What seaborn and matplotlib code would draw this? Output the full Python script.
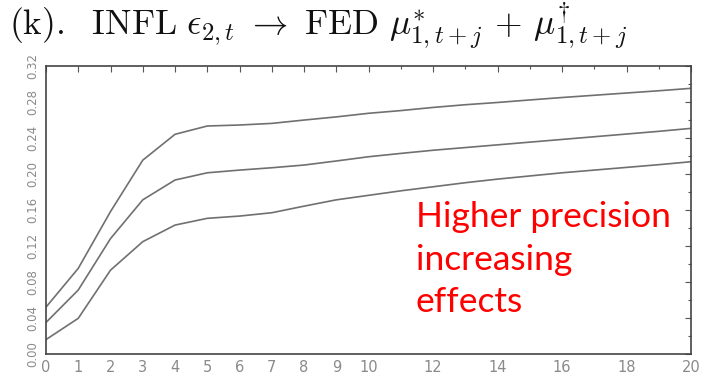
import numpy as np
import pandas as pd
import matplotlib
matplotlib.use("Agg")
import matplotlib.pyplot as plt
import seaborn as sns
from matplotlib.ticker import MultipleLocator, FixedLocator

horizon = list(range(21))
upper = [0.052, 0.095, 0.158, 0.215, 0.2437, 0.2529, 0.254, 0.2558, 0.2595, 0.263, 0.267,
         0.270, 0.2735, 0.2765, 0.279, 0.2818, 0.2845, 0.287, 0.2895, 0.292, 0.2947]
median = [0.035, 0.071, 0.128, 0.171, 0.193, 0.201, 0.204, 0.2066, 0.2096, 0.2141, 0.2188,
          0.2225, 0.226, 0.229, 0.232, 0.235, 0.238, 0.241, 0.244, 0.247, 0.2503]
lower = [0.016, 0.0396, 0.093, 0.1246, 0.143, 0.1505, 0.153, 0.1567, 0.164, 0.171, 0.176,
         0.181, 0.1855, 0.19, 0.194, 0.1975, 0.201, 0.204, 0.207, 0.210, 0.2133]
x_tick_labels = ["0", "1", "2", "3", "4", "5", "6", "7", "8", "9", "10", "12", "14", "16", "18", "20"]
y_tick_labels = ["0.00", "0.04", "0.08", "0.12", "0.16", "0.20", "0.24", "0.28", "0.32"]
title = (r"$\mathrm{(k).\ \ INFL}\ \epsilon_{2,t}\ \rightarrow\ \mathrm{FED}\ "
         r"\mu^{*}_{1,t+j}\,+\,\mu^{\dagger}_{1,t+j}$")
note = "Higher precision\nincreasing\neffects"

df = pd.DataFrame({
    "j": horizon * 3,
    "value": upper + median + lower,
    "band": ["upper"] * 21 + ["median"] * 21 + ["lower"] * 21,
})

sns.set_style("white")
plt.rcParams["mathtext.fontset"] = "cm"

fig = plt.figure(figsize=(7.11, 3.80), dpi=100)
ax = fig.add_axes([0.0647, 0.0684, 0.9073, 0.7592])

sns.lineplot(data=df, x="j", y="value", hue="band", palette=["#707070"] * 3,
             linewidth=1.2, legend=False, ax=ax)

ax.set_xlim(0, 20)
ax.set_ylim(0, 0.32)
ax.set_xlabel("")
ax.set_ylabel("")

xt = [int(v) for v in x_tick_labels]
ax.xaxis.set_major_locator(FixedLocator(xt))
ax.set_xticklabels(x_tick_labels)
ax.xaxis.set_minor_locator(FixedLocator([11, 13, 15, 17, 19]))
yt = [float(v) for v in y_tick_labels]
ax.yaxis.set_major_locator(FixedLocator(yt))
ax.set_yticklabels(y_tick_labels, rotation=90, va="center")
ax.yaxis.set_minor_locator(MultipleLocator(0.02))

ax.tick_params(which="both", direction="in", top=True, right=True, color="#555555",
               labelcolor="#8a8a8a")
ax.tick_params(axis="x", labelsize=10.5, pad=4)
ax.tick_params(axis="y", labelsize=8.5, pad=5)
ax.tick_params(which="major", length=4, width=0.8)
ax.tick_params(which="minor", length=2.5, width=0.8)
for s in ax.spines.values():
    s.set_color("#444444")
    s.set_linewidth(1.2)

fig.text(0.012, 0.931, title, fontsize=25.5, va="center", ha="left", color="#111111")
fig.text(0.585, 0.47, note, fontsize=25.5, family="Lato", color="#ff0000",
         va="top", ha="left", linespacing=1.4)

fig.savefig("out.png", dpi=100)
